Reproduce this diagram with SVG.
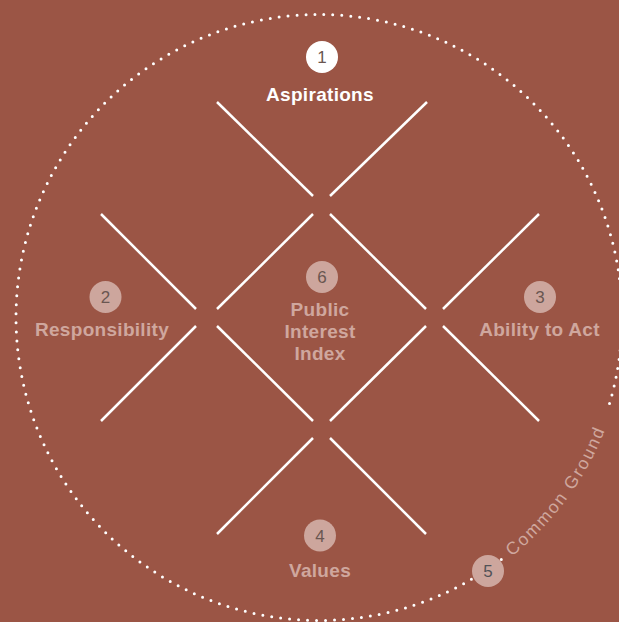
<svg xmlns="http://www.w3.org/2000/svg" width="619" height="622" viewBox="0 0 619 622">
<style>
.bg{fill:#9b5545}
.ln{stroke:#ffffff;stroke-width:2.5;fill:none}
.dots{stroke:#ffffff;stroke-width:3;fill:none;stroke-linecap:round;stroke-dasharray:0 9}
.badge{fill:#cda69d}
.badge1{fill:#ffffff}
.num{font-family:"Liberation Sans",Arial,sans-serif;font-size:17px;fill:#6a5651;text-anchor:middle}
.lbl{font-family:"Liberation Sans",Arial,sans-serif;font-size:19px;font-weight:bold;fill:#cfa79e;text-anchor:middle;letter-spacing:0.3px}
.lbl1{fill:#ffffff}
.arc{font-family:"Liberation Sans",Arial,sans-serif;font-size:17.5px;fill:#cfa79e;letter-spacing:2px}
</style>
<defs>
<path id="cgPath" d="M 503.8 562.7 A 307 307 0 0 0 617 393"/>
</defs>
<rect class="bg" x="0" y="0" width="619" height="622"/>
<g id="common-ground-ring">
<path class="dots" d="M 501.3 559.5 A 303 303 0 1 1 607.5 410.1"/>
<text class="arc"><textPath href="#cgPath" startOffset="10">Common Ground</textPath></text>
</g>
<g id="connectors">
<line class="ln" x1="217" y1="102" x2="313" y2="196"/>
<line class="ln" x1="427" y1="102" x2="330" y2="196"/>
<line class="ln" x1="101" y1="214" x2="196" y2="309"/>
<line class="ln" x1="217" y1="309" x2="313" y2="214"/>
<line class="ln" x1="330" y1="214" x2="426" y2="309"/>
<line class="ln" x1="443" y1="309" x2="539" y2="214"/>
<line class="ln" x1="101" y1="421" x2="196" y2="326"/>
<line class="ln" x1="217" y1="326" x2="313" y2="421"/>
<line class="ln" x1="330" y1="421" x2="426" y2="326"/>
<line class="ln" x1="443" y1="326" x2="539" y2="421"/>
<line class="ln" x1="217" y1="534" x2="313" y2="438"/>
<line class="ln" x1="330" y1="438" x2="426" y2="534"/>
</g>
<g id="node-1">
<circle class="badge1" cx="322" cy="57" r="16"/>
<text class="num" x="322" y="63">1</text>
<text class="lbl lbl1" x="320" y="101">Aspirations</text>
</g>
<g id="node-2">
<circle class="badge" cx="105.5" cy="297" r="16"/>
<text class="num" x="105.5" y="303">2</text>
<text class="lbl" x="102" y="336">Responsibility</text>
</g>
<g id="node-3">
<circle class="badge" cx="540" cy="297" r="16"/>
<text class="num" x="540" y="303">3</text>
<text class="lbl" x="539.5" y="336">Ability to Act</text>
</g>
<g id="node-4">
<circle class="badge" cx="320" cy="535.5" r="16"/>
<text class="num" x="320" y="541.5">4</text>
<text class="lbl" x="320" y="577">Values</text>
</g>
<g id="node-5">
<circle class="badge" cx="488" cy="571" r="16"/>
<text class="num" x="488" y="577" style="fill:#525257">5</text>
</g>
<g id="node-6">
<circle class="badge" cx="322" cy="277" r="16"/>
<text class="num" x="322" y="283">6</text>
<text class="lbl" x="320" y="316">Public</text>
<text class="lbl" x="320" y="338">Interest</text>
<text class="lbl" x="320" y="360">Index</text>
</g>
</svg>
